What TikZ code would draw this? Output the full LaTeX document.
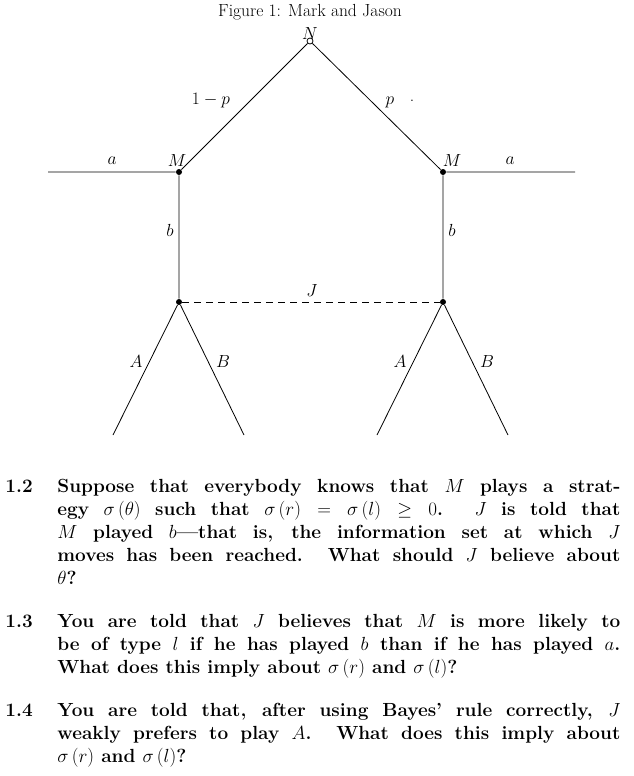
\documentclass[tikz,border=0pt]{standalone}
\usepackage{amsmath}
\usepackage{fix-cm}
\begin{document}
\begin{tikzpicture}[x=1pt,y=-1pt,line width=0.8pt,
  dot/.style={circle,fill,inner sep=0pt,minimum size=6pt},
  lab/.style={inner sep=1pt,font=\fontsize{17.5}{20}\selectfont},
  item/.style={anchor=base west,text width=563pt,align=justify,inner sep=0pt,font=\fontsize{19}{23}\selectfont\bfseries},
  num/.style={anchor=base west,inner sep=0pt,font=\fontsize{19}{23}\selectfont\bfseries}]
\useasboundingbox (0,0) rectangle (633,776);
\node[lab] (cap) at (310,12) {Figure 1: Mark and Jason};
\node[circle,draw,inner sep=0pt,minimum size=6pt] (N) at (310,41) {};
\node[lab,above=-3pt] at (N.north) {$N$};
\node[dot] (ML) at (179,172) {};
\node[dot] (MR) at (443,172) {};
\node[dot] (JL) at (179,302) {};
\node[dot] (JR) at (443,302) {};
\coordinate (aL) at (48,172);
\coordinate (aR) at (575,172);
\coordinate (AL) at (113,435);
\coordinate (BL) at (244,435);
\coordinate (AR) at (377,435);
\coordinate (BR) at (508,435);
\draw (N) -- (ML) (N) -- (MR) (aL) -- (ML) (MR) -- (aR)
  (ML) -- (JL) (MR) -- (JR) (JL) -- (AL) (JL) -- (BL) (JR) -- (AR) (JR) -- (BR);
\draw[dash pattern=on 7pt off 5pt] (JL) -- (JR);
\node[lab] at (112,161) {$a$};
\node[lab] at (510,161) {$a$};
\node[lab] at (177,161) {$M$};
\node[lab] at (452,161) {$M$};
\node[lab] at (211,101) {$1-p$};
\node[lab] at (390,102) {$p$};
\node[lab] at (412,101) {.};
\node[lab] at (170,230) {$b$};
\node[lab] at (452,230) {$b$};
\node[lab] at (312,291) {$J$};
\node[lab] at (136,362) {$A$};
\node[lab] at (223,362) {$B$};
\node[lab] at (400,362) {$A$};
\node[lab] at (487,362) {$B$};
\node[num] (n2) at (5,492) {1.2};
\node[item] (t2) at (57,492) {Suppose that everybody knows that $M$ plays a strat-\linebreak egy $\sigma\left(\theta\right)$ such that $\sigma\left(r\right)=\sigma\left(l\right)\geq 0$. $J$ is told that\linebreak $M$ played $b$---that is, the information set at which $J$\linebreak moves has been reached. What should $J$ believe about\linebreak $\theta$?};
\node[num] (n3) at (5,627) {1.3};
\node[item] (t3) at (57,627) {You are told that $J$ believes that $M$ is more likely to\linebreak be of type $l$ if he has played $b$ than if he has played $a$.\linebreak What does this imply about $\sigma\left(r\right)$ and $\sigma\left(l\right)$?};
\node[num] (n4) at (5,716) {1.4};
\node[item] (t4) at (57,716) {You are told that, after using Bayes' rule correctly, $J$\linebreak weakly prefers to play $A$. What does this imply about\linebreak $\sigma\left(r\right)$ and $\sigma\left(l\right)$?};
\end{tikzpicture}
\end{document}
